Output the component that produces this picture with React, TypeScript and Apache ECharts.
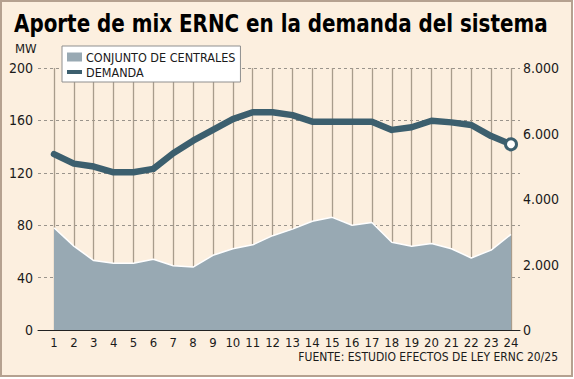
import React, { useEffect, useRef } from "react";
import * as echarts from "echarts";

const hours = ["1","2","3","4","5","6","7","8","9","10","11","12","13","14","15","16","17","18","19","20","21","22","23","24"];
const centrales = [78, 64, 53, 51, 51, 54, 49, 48, 57, 62, 65, 72, 77, 83, 86, 80, 82, 67, 64, 66, 62, 55, 61, 73];
const demanda = [5370, 5080, 4990, 4815, 4815, 4920, 5395, 5780, 6110, 6440, 6650, 6650, 6560, 6360, 6360, 6360, 6360, 6110, 6190, 6390, 6340, 6260, 5920, 5670];
const leftTicks = { min: 0, max: 200, interval: 40 };
const rightTicks = { min: 0, max: 8000, interval: 2000 };
const titleText = "Aporte de mix ERNC en la demanda del sistema";
const sourceText = "FUENTE: ESTUDIO EFECTOS DE LEY ERNC 20/25";

const FONT = "'Liberation Sans Narrow', 'DejaVu Sans Condensed', sans-serif";
const AREA = "#98a9b3";
const LINE = "#3c5f6e";

function measure(font: string, text: string): number {
  const c = document.createElement("canvas").getContext("2d");
  if (!c) return 0;
  c.font = font;
  return c.measureText(text).width;
}

export default function App() {
  const ref = useRef<HTMLDivElement>(null);
  useEffect(() => {
    document.body.style.margin = "0";
    if (!ref.current) return;
    const chart = echarts.init(ref.current, undefined, { renderer: "svg" });
    const titleFont = "bold 25px " + FONT;
    const tw = measure(titleFont, titleText) || 534;
    const titleScale = 534 / tw;
    const lastIdx = demanda.length - 1;
    chart.setOption({
      animation: false,
      backgroundColor: "transparent",
      textStyle: { fontFamily: FONT },
      grid: [
        { left: 54, right: 63, top: 68, bottom: 49 },
        { left: 38, right: 54, top: 68, bottom: 49 },
      ],
      legend: {
        left: 62,
        top: 46,
        orient: "vertical",
        backgroundColor: "#ffffff",
        borderColor: "#8f8f8f",
        borderWidth: 1,
        borderRadius: 0,
        padding: [4, 5, 3, 5],
        itemWidth: 15,
        itemHeight: 9,
        itemGap: 1,
        textStyle: { fontSize: 12.5, color: "#1a1a1a", fontFamily: FONT, lineHeight: 14, padding: [0, 0, 0, -1] },
        data: [
          { name: "CONJUNTO DE CENTRALES", icon: "rect", itemStyle: { color: AREA, borderWidth: 0 } },
          { name: "DEMANDA", icon: "path://M0,0H15V4H0Z", itemStyle: { color: LINE, borderWidth: 0 } },
        ],
      },
      xAxis: [
        {
          type: "category",
          gridIndex: 0,
          data: hours,
          boundaryGap: false,
          axisLine: { show: false },
          axisTick: { show: false },
          axisLabel: { interval: 0, margin: 6, fontSize: 13, color: "#1a1a1a", fontFamily: FONT },
          splitLine: { show: true, interval: 0, lineStyle: { color: "#a89c8c", width: 1.3 } },
        },
        {
          type: "value",
          gridIndex: 1,
          min: 0,
          max: 1,
          axisLine: { show: true, lineStyle: { color: "#222", width: 1 } },
          axisTick: { show: false },
          axisLabel: { show: false },
          splitLine: { show: false },
        },
      ],
      yAxis: [
        {
          type: "value",
          gridIndex: 0,
          ...leftTicks,
          show: false,
          splitLine: { show: false },
        },
        {
          type: "value",
          gridIndex: 1,
          ...leftTicks,
          position: "left",
          axisLine: { show: false },
          axisTick: { show: false },
          axisLabel: { margin: 5, fontSize: 14, color: "#1a1a1a", fontFamily: FONT },
          splitLine: { show: true, lineStyle: { color: "#9a948c", type: [3, 3], width: 1 } },
        },
        {
          type: "value",
          gridIndex: 0,
          ...rightTicks,
          position: "right",
          axisLine: { show: false },
          axisTick: { show: false },
          splitLine: { show: false },
          axisLabel: {
            margin: 12,
            fontSize: 14,
            color: "#1a1a1a",
            fontFamily: FONT,
            formatter: (v: number) => (v === 0 ? "0" : String(v).replace(/\B(?=(\d{3})+(?!\d))/g, ".")),
          },
        },
      ],
      series: [
        {
          name: "CONJUNTO DE CENTRALES",
          type: "line",
          xAxisIndex: 0,
          yAxisIndex: 0,
          data: centrales,
          symbol: "none",
          itemStyle: { color: AREA },
          lineStyle: { color: "#ffffff", width: 1.5 },
          areaStyle: { color: AREA, opacity: 1 },
          z: 3,
        },
        {
          name: "DEMANDA",
          type: "line",
          xAxisIndex: 0,
          yAxisIndex: 2,
          data: demanda.map((v, i) =>
            i === lastIdx
              ? { value: v, symbol: "circle", symbolSize: 11, itemStyle: { color: "#ffffff", borderColor: LINE, borderWidth: 3 } }
              : { value: v, symbol: "none" }
          ),
          symbol: "none",
          itemStyle: { color: LINE },
          lineStyle: { color: LINE, width: 6.5, cap: "round", join: "round" },
          z: 4,
        },
      ],
      graphic: [
        {
          type: "text",
          x: 14,
          y: 11,
          scaleX: titleScale,
          style: { text: titleText, font: titleFont, fill: "#000000", textVerticalAlign: "top" },
        },
        {
          type: "text",
          x: 15,
          y: 42,
          style: { text: "MW", font: "13px " + FONT, fill: "#1a1a1a" },
        },
        {
          type: "text",
          x: 558,
          y: 351,
          style: { text: sourceText, font: "12px " + FONT, fill: "#1a1a1a", align: "right" },
        },
      ],
    });
    return () => chart.dispose();
  }, []);
  return (
    <div style={{ position: "relative", width: 574, height: 379, background: "#ffffff" }}>
      <div style={{ position: "absolute", left: 0, top: 0, width: 573, height: 377, background: "#fcefdf", border: "2px solid #b5a190", boxSizing: "border-box" }} />
      <div ref={ref} style={{ position: "absolute", left: 0, top: 0, width: 574, height: 379 }} />
    </div>
  );
}
